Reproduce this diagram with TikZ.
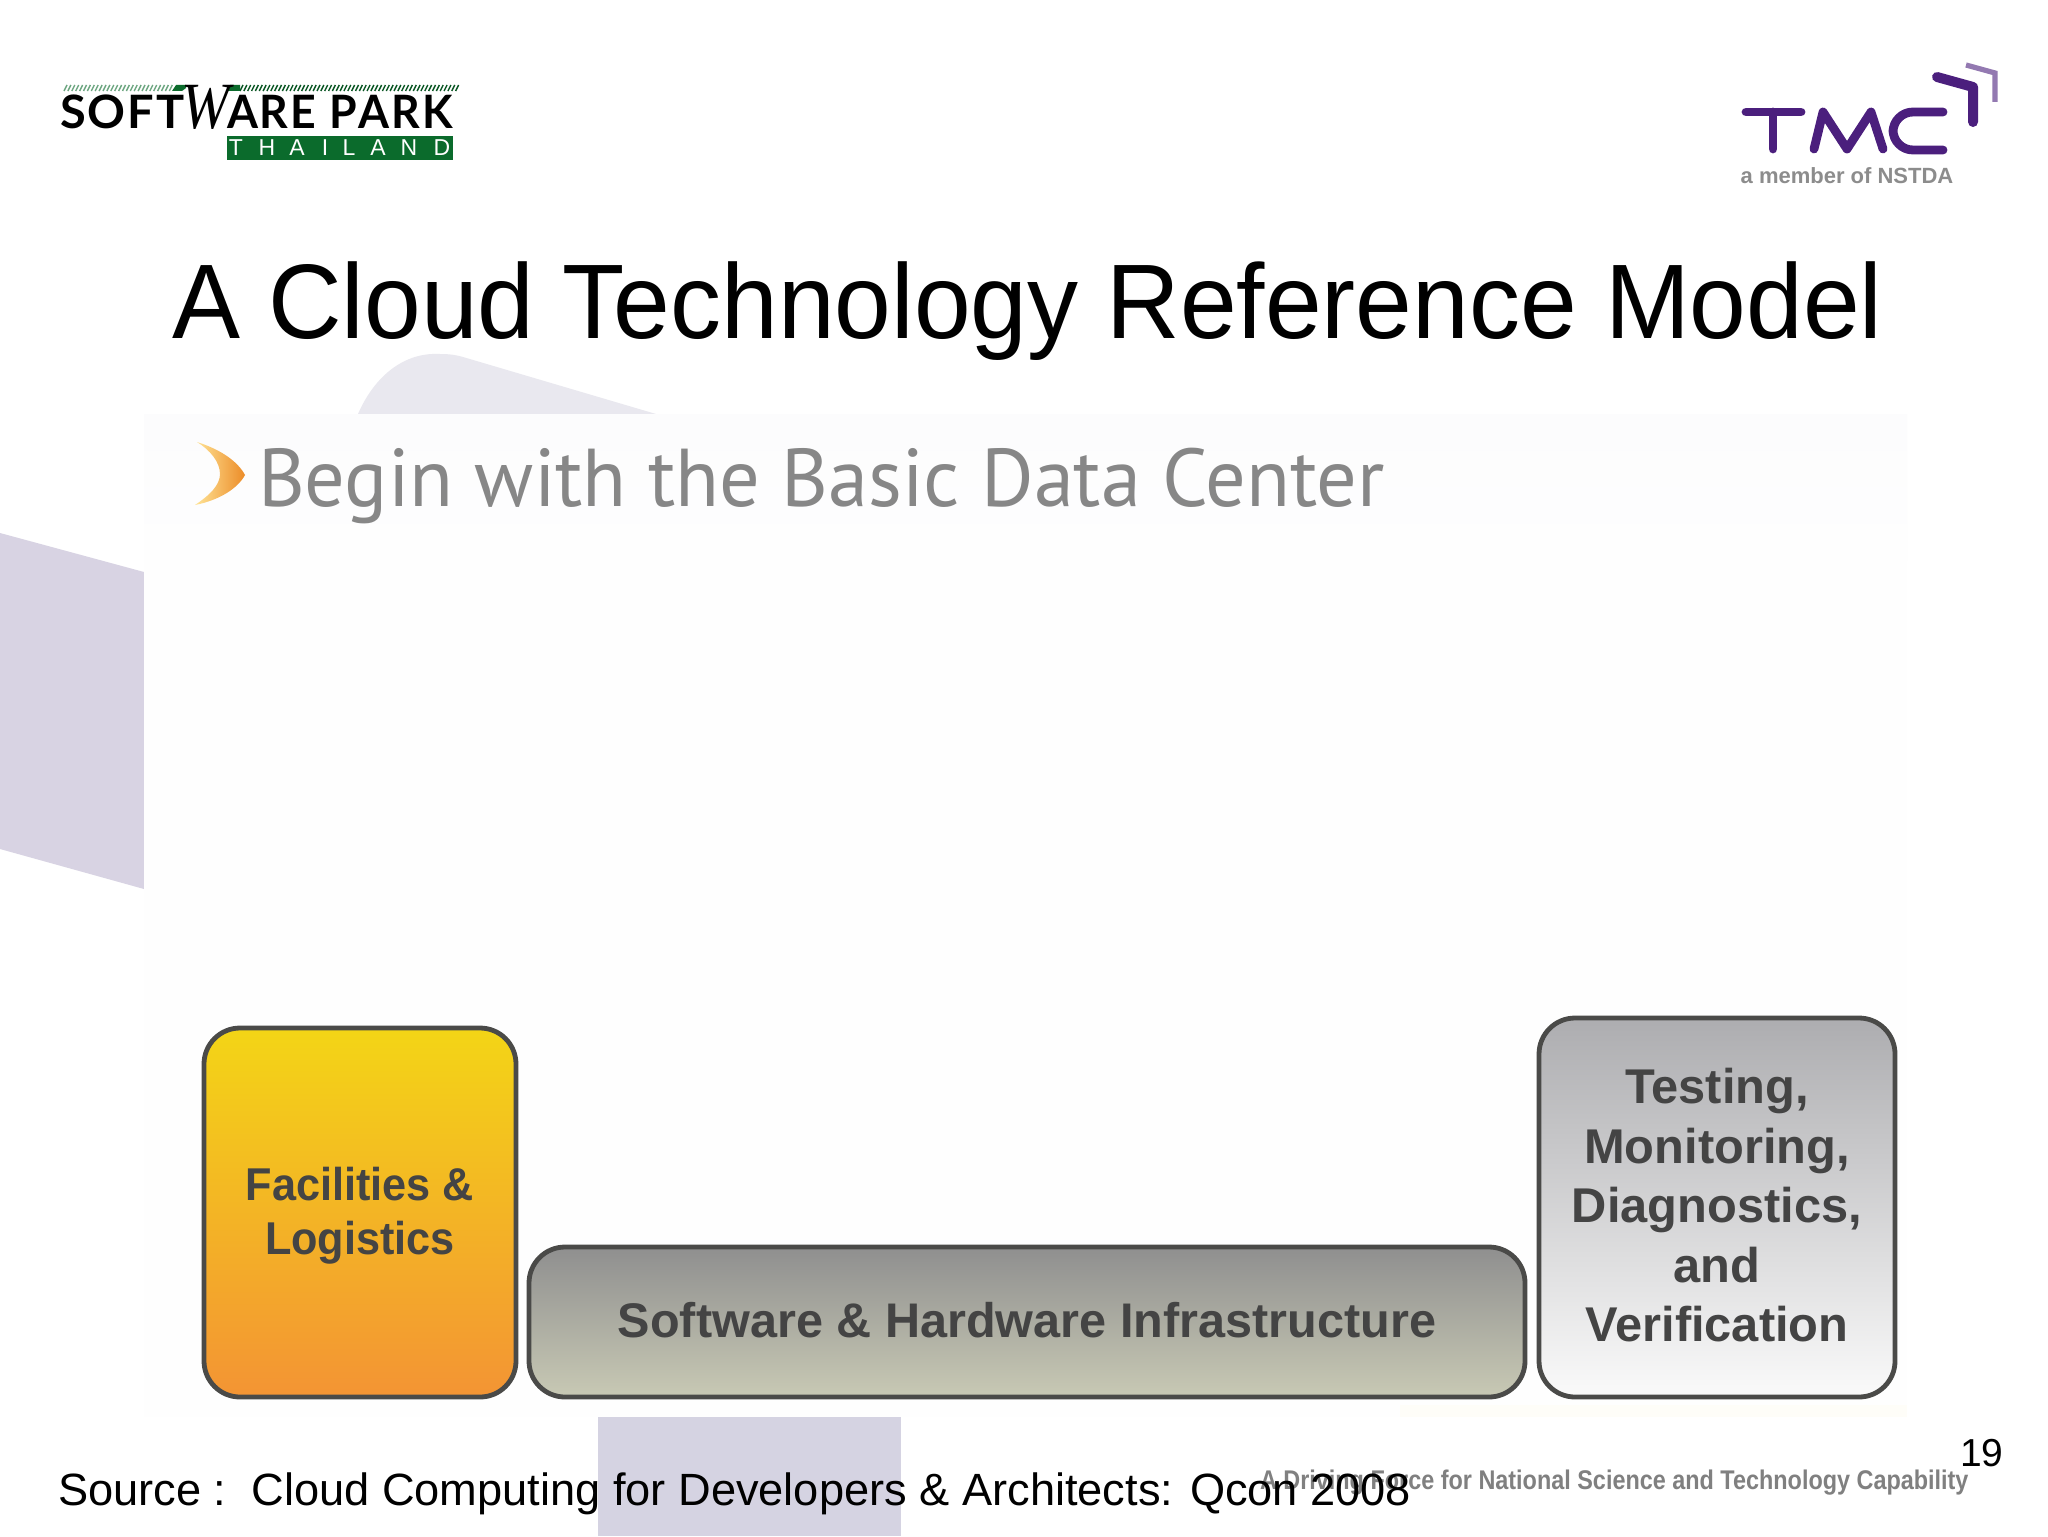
\documentclass[tikz,border=0pt]{standalone}
\usepackage{fontspec}
\usepackage{graphicx}
\setmainfont{Liberation Sans}
\newfontfamily\ptfont{PT Sans}
\newfontfamily\logofont{Lato}
\newfontfamily\wfont{Liberation Serif}
\usetikzlibrary{calc}
\definecolor{boxline}{HTML}{4A4A48}
\definecolor{boxtext}{HTML}{444444}
\definecolor{tmcpurple}{HTML}{4B1F7D}
\definecolor{spgreen}{HTML}{0B6B2C}
\newcommand{\narrow}[2]{\scalebox{#1}[1]{#2}}
\tikzset{
  x=.5pt,y=-.5pt,
  plain/.style={inner sep=0pt,outer sep=0pt,anchor=base west},
  blockbox/.style={draw=boxline,line width=2.4pt,rounded corners=18pt,inner sep=0pt,outer sep=0pt,
     align=center,text=boxtext,font=\fontsize{23}{27}\selectfont\bfseries},
  tmcstroke/.style={draw=tmcpurple,line width=4.4pt,line cap=round,line join=round},
}
\begin{document}
\begin{tikzpicture}
\useasboundingbox (0,0) rectangle (2048,1536);
\fill[white] (0,0) rectangle (2048,1536);
% background shapes
\fill[color={rgb,255:red,233;green,232;blue,239}] (358,414) .. controls (375,375) and (405,352) .. (440,354) .. controls (450,354) and (456,355) .. (463,357) -- (656,414) -- cycle;
\fill[color={rgb,255:red,216;green,211;blue,227}] (0,533) -- (144,572) -- (144,889) -- (0,849) -- cycle;
\fill[color={rgb,255:red,213;green,211;blue,226}] (598,1417) rectangle (901,1536);
\fill[color={rgb,255:red,254;green,254;blue,254}] (144,414) rectangle (1907,1417);
\shade[top color={rgb,255:red,252;green,252;blue,253},bottom color={rgb,255:red,254;green,254;blue,254}] (144,414) rectangle (1907,560);
\fill[color={rgb,255:red,254;green,253;blue,248}] (1400,1405) rectangle (1907,1417);
% software park logo
\foreach \i in {0,...,27}{
  \draw[spgreen!60!white,line width=.7pt] ({64+\i*3.9},91) -- ({67+\i*3.9},85);
}
\foreach \i in {0,...,56}{
  \draw[spgreen!80!black,line width=.7pt] ({240+\i*3.85},91) -- ({243+\i*3.85},85);
}
\fill[spgreen] (172,91) -- (176,85) -- (186,85) -- (186,88) -- (182,91) -- cycle;
\fill[spgreen] (226,91) -- (230,85) -- (240,85) -- (240,91) -- cycle;
\node[plain] (sp1) at (60,128) {\narrow{1.02}{\logofont\fontsize{23}{25}\selectfont\bfseries S\kern1pt O\kern1pt F\kern1pt T}};
\node[plain] (sp2) at (181,128) {\narrow{.88}{\wfont\fontsize{33}{33}\selectfont\itshape W}};
\node[plain] (sp3) at (227,128) {\narrow{.97}{\logofont\fontsize{23}{25}\selectfont\bfseries A\kern1pt R\kern1pt E\kern1pt\ P\kern1pt A\kern1pt R\kern1pt K}};
\fill[spgreen] (227,136) rectangle (453,160);
\foreach \c/\xx in {T/236,H/267,A/297,I/325,L/349,A/378,N/409,D/442}{
  \node[text=white,inner sep=0pt,font=\fontsize{11.5}{12}\selectfont] at (\xx,148) {\c};
}
% TMC logo
\draw[tmcstroke] (1746,112) -- (1801,112) (1773,112) -- (1773,149);
\draw[tmcstroke] (1814,149) -- (1823,112) -- (1847,149) -- (1871,112) -- (1883,149);
\draw[tmcstroke,rounded corners=10pt] (1943,112) -- (1893,112) -- (1893,150) -- (1943,150);
\draw[tmcstroke,line width=5pt] (1937,77) -- (1973,87) -- (1973,122);
\draw[draw=tmcpurple!60!white,line width=2.6pt] (1966,65) -- (1995,73) -- (1995,102);
\node[text=black!45,inner sep=0pt,font=\fontsize{11}{12}\selectfont\bfseries] (member) at (1847,176) {a member of NSTDA};
% title
\node[plain] (title) at (172,338) {\narrow{.9615}{\fontsize{53}{60}\selectfont A Cloud Technology Reference Model}};
% heading
\path[left color={rgb,255:red,255;green,228;blue,150},right color={rgb,255:red,236;green,140;blue,40}] (197,442) .. controls (222,450) and (238,462) .. (245,475) .. controls (238,488) and (220,500) .. (195,505) .. controls (210,495) and (220,485) .. (220,474) .. controls (220,462) and (210,450) .. (197,442) -- cycle;
\node[plain,text=black!47] (heading) at (258,506) {\narrow{.98}{\ptfont\fontsize{41}{48}\selectfont Begin with the Basic Data Center}};
% blocks
\node[blockbox,minimum width=156pt,minimum height=184.5pt,top color={rgb,255:red,243;green,213;blue,22},bottom color={rgb,255:red,243;green,148;blue,52}] (facilities) at (360,1212.5) {\rule{0pt}{19.6pt}\narrow{.94}{Facilities \&}\\\narrow{.94}{Logistics}};
\node[blockbox,font=\fontsize{24.3}{27}\selectfont\bfseries,minimum width=498pt,minimum height=75pt,top color={rgb,255:red,143;green,143;blue,143},bottom color={rgb,255:red,200;green,201;blue,180}] (infra) at (1027,1322) {\rule[-2.6pt]{0pt}{2.6pt}Software \& Hardware Infrastructure};
\node[blockbox,font=\fontsize{24.4}{29.7}\selectfont\bfseries,minimum width=178pt,minimum height=189.5pt,top color={rgb,255:red,173;green,173;blue,176},middle color={rgb,255:red,213;green,216;blue,216},bottom color={rgb,255:red,250;green,250;blue,250}] (testing) at (1717,1207.5) {Testing,\\Monitoring,\\Diagnostics,\\and\\\rule[-2.6pt]{0pt}{2.6pt}Verification};
% footer
\node[plain,text=black!50] (tagline) at (1260,1489) {\narrow{.867}{\fontsize{13.5}{15}\selectfont\bfseries A Driving Force for National Science and Technology Capability}};
\node[plain] (source) at (58,1505) {\fontsize{22.6}{26}\selectfont Source :\ \ Cloud Computing for Developers \& Architects: Qcon 2008};
\node[plain] (pagenum) at (1960,1466) {\fontsize{19.5}{22}\selectfont 19};
\end{tikzpicture}
\end{document}
